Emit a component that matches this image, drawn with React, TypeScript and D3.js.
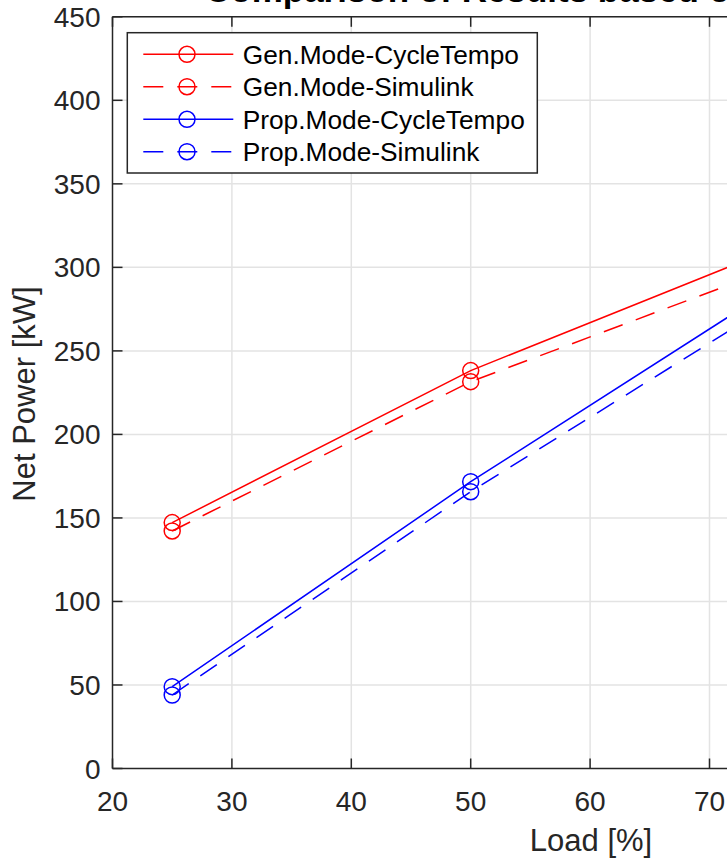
import React from "react";
import * as d3 from "d3";

// Load points (%) and net power (kW) per operating mode / model
const loads = [25, 50, 75];
const genCycleTempo = [147.2, 238.2, 310];
const genSimulink = [142.2, 231.6, 298.5];
const propCycleTempo = [49, 171.7, 286];
const propSimulink = [44, 165.7, 277];

const seriesNames = [
  "Gen.Mode-CycleTempo",
  "Gen.Mode-Simulink",
  "Prop.Mode-CycleTempo",
  "Prop.Mode-Simulink",
];
const seriesValues = [genCycleTempo, genSimulink, propCycleTempo, propSimulink];
const seriesColors = ["#ff0000", "#ff0000", "#0000ff", "#0000ff"];
const seriesDashed = [false, true, false, true];

const xTicks = [20, 30, 40, 50, 60, 70, 80, 90, 100];
const yTicks = [0, 50, 100, 150, 200, 250, 300, 350, 400, 450];

const titleText = "Comparison of Results based on Simulink and CycleTempo";
const xLabel = "Load [%]";
const yLabel = "Net Power [kW]";

const W = 727;
const H = 859;
const left = 112.5;
const top = 16.8;
const bottom = 768.5;
const pxPer10 = 119.4;
const right = left + 8 * pxPer10;

const AXIS = "#262626";
const GRID = "#e3e3e3";
const FONT = "'Liberation Sans', Arial, Helvetica, sans-serif";
const DASH = "20,14";

export default function App() {
  const x = d3.scaleLinear().domain([20, 100]).range([left, right]);
  const y = d3.scaleLinear().domain([0, 450]).range([bottom, top]);
  const line = d3
    .line<number>()
    .x((_, i) => x(loads[i]))
    .y((d) => y(d));

  const tickLen = 10;
  const legX = 127.3;
  const legY = 32.7;
  const legW = 410;
  const legH = 140.3;
  const rowY = [54.3, 86.7, 119.3, 151.7];

  return (
    <svg
      width={W}
      height={H}
      style={{ position: "absolute", left: 0, top: 0, background: "#fff" }}
      fontFamily={FONT}
    >
      <defs>
        <clipPath id="plotArea">
          <rect x={left} y={top} width={right - left} height={bottom - top} />
        </clipPath>
      </defs>

      {/* title, mostly above the visible area */}
      <text x={205} y={1.5} fontSize={35} fontWeight="bold" fill="#000">
        {titleText}
      </text>

      {/* grid */}
      <g stroke={GRID} strokeWidth={1.5}>
        {xTicks.slice(1).map((t) => (
          <line key={"gx" + t} x1={x(t)} x2={x(t)} y1={top} y2={bottom} />
        ))}
        {yTicks.slice(1).map((t) => (
          <line key={"gy" + t} x1={left} x2={right} y1={y(t)} y2={y(t)} />
        ))}
      </g>

      {/* series */}
      <g clipPath="url(#plotArea)">
        {seriesValues.map((vals, s) => (
          <g key={seriesNames[s]} stroke={seriesColors[s]} fill="none" strokeWidth={1.5}>
            <path d={line(vals) || ""} strokeDasharray={seriesDashed[s] ? DASH : undefined} />
            {vals.map((v, i) => (
              <circle key={i} cx={x(loads[i])} cy={y(v)} r={8} />
            ))}
          </g>
        ))}
      </g>

      {/* axes box and ticks */}
      <g stroke={AXIS} strokeWidth={1.5} fill="none">
        <line x1={left} x2={left} y1={top} y2={bottom} />
        <line x1={left} x2={right} y1={bottom} y2={bottom} />
        <line x1={left} x2={right} y1={top} y2={top} />
        {xTicks.map((t) => (
          <g key={"tx" + t}>
            <line x1={x(t)} x2={x(t)} y1={bottom} y2={bottom - tickLen} />
            <line x1={x(t)} x2={x(t)} y1={top} y2={top + tickLen} />
          </g>
        ))}
        {yTicks.map((t) => (
          <line key={"ty" + t} x1={left} x2={left + tickLen} y1={y(t)} y2={y(t)} />
        ))}
      </g>

      {/* tick labels */}
      <g fill={AXIS} fontSize={28}>
        {xTicks.map((t) => (
          <text key={"lx" + t} x={x(t)} y={810.5} textAnchor="middle">
            {t}
          </text>
        ))}
        {yTicks.map((t) => (
          <text key={"ly" + t} x={100.5} y={y(t) + 10} textAnchor="end">
            {t}
          </text>
        ))}
      </g>

      {/* axis labels */}
      <text x={591} y={850.5} fontSize={31} fill={AXIS} textAnchor="middle">
        {xLabel}
      </text>
      <text
        transform={`translate(35,394) rotate(-90)`}
        fontSize={31}
        fill={AXIS}
        textAnchor="middle"
      >
        {yLabel}
      </text>

      {/* legend */}
      <g>
        <rect x={legX} y={legY} width={legW} height={legH} fill="#fff" stroke={AXIS} strokeWidth={1.5} />
        {seriesNames.map((name, s) => (
          <g key={"leg" + s}>
            <line
              x1={143.3}
              x2={233.3}
              y1={rowY[s]}
              y2={rowY[s]}
              stroke={seriesColors[s]}
              strokeWidth={1.5}
              strokeDasharray={seriesDashed[s] ? DASH : undefined}
            />
            <circle cx={187} cy={rowY[s]} r={8} fill="none" stroke={seriesColors[s]} strokeWidth={1.5} />
            <text x={242.7} y={rowY[s] + 9.5} fontSize={26.3} fill="#000">
              {name}
            </text>
          </g>
        ))}
      </g>
    </svg>
  );
}
